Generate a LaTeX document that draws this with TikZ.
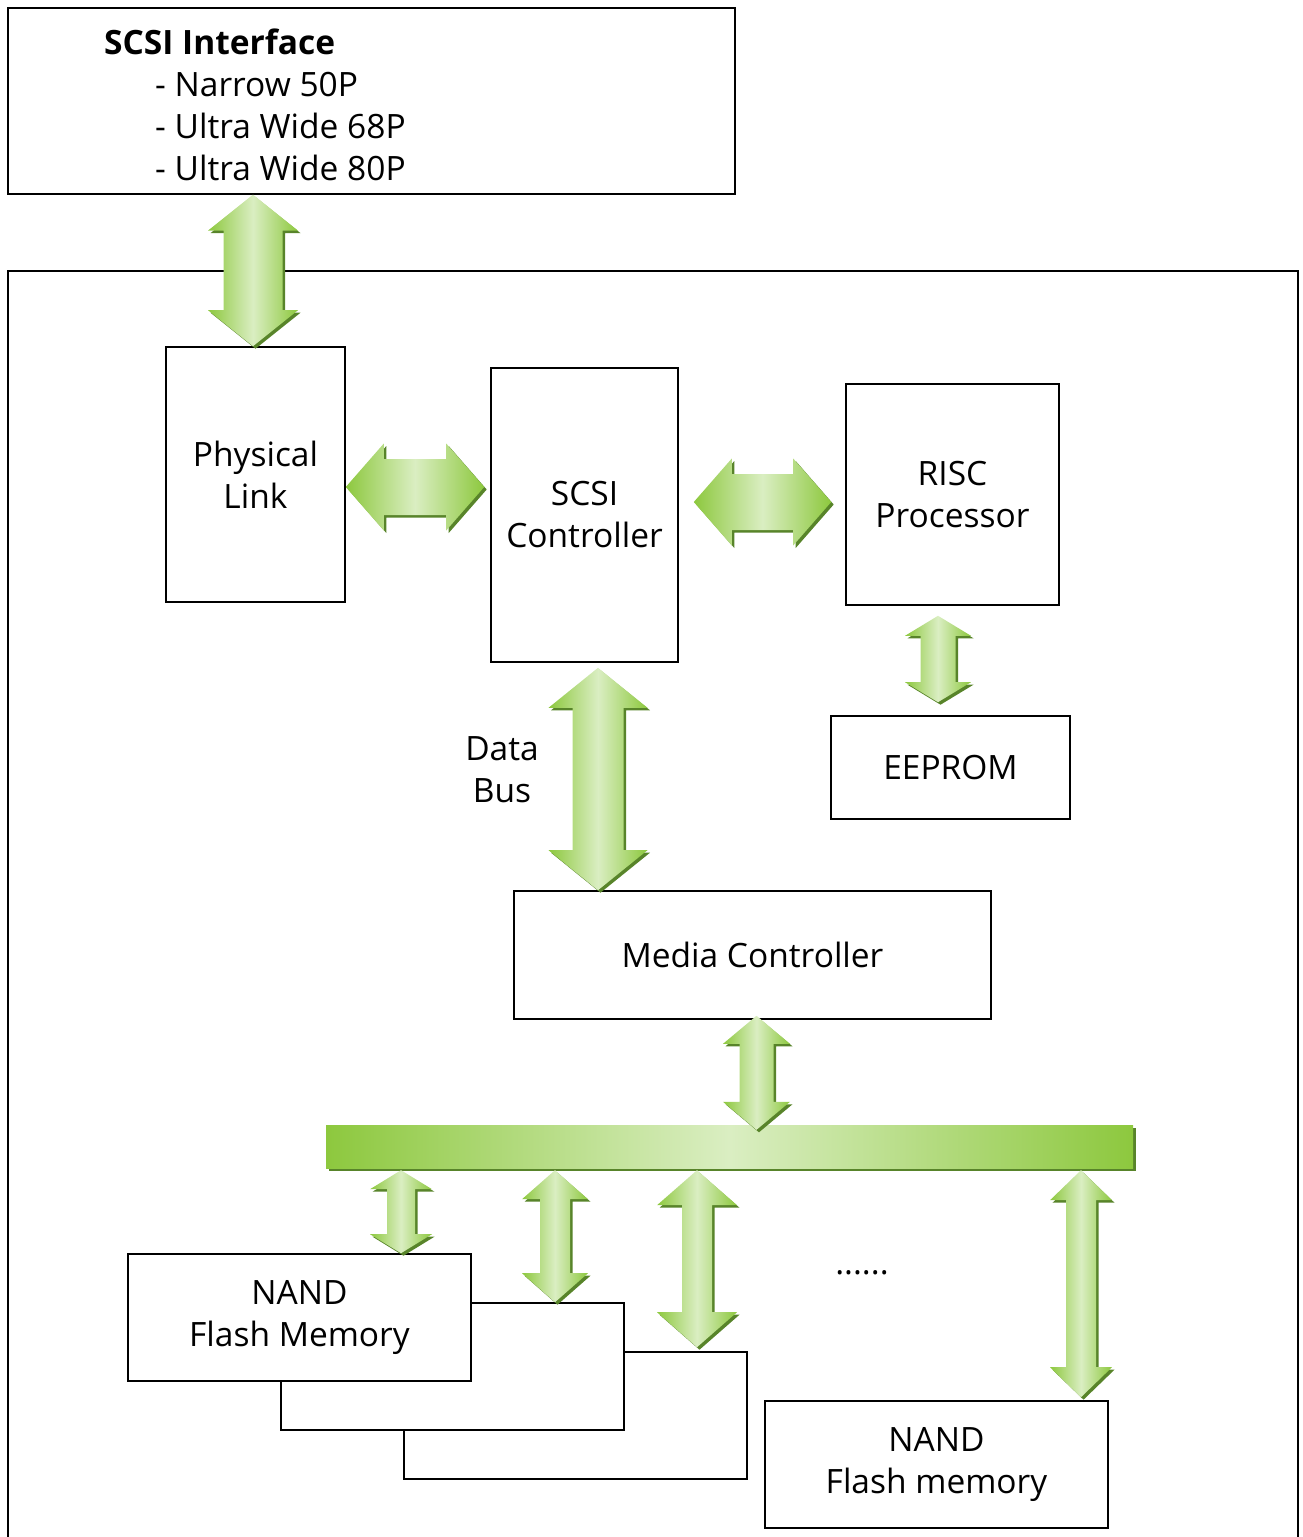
\documentclass[tikz,border=0pt]{standalone}
\usepackage{fontspec}
\setmainfont{Open Sans}
\usetikzlibrary{calc,shadows}

\definecolor{linkgreen}{RGB}{141,200,62}
\definecolor{linklight}{RGB}{218,238,194}
\definecolor{linkdark}{RGB}{88,132,42}

\tikzset{
	box/.style={draw, line width=1.6pt, fill=white, inner sep=0pt, align=center},
	linkbody/.style={left color=linkgreen, right color=linkgreen, middle color=linklight},
	linkshadow/.style={fill=linkdark, transform canvas={shift={(2.5pt,-2.5pt)}}},
}

% vertical double arrow: look, top tip, bottom tip, head half width, shaft half width, head length
\newcommand{\vlinkpath}[6]{%
	\path[#1] let \p1=#2, \p2=#3 in
		(\x1,\y1) -- (\x1+#4pt,\y1-#6pt) -- (\x1+#5pt,\y1-#6pt) -- (\x1+#5pt,\y2+#6pt)
		-- (\x1+#4pt,\y2+#6pt) -- (\x1,\y2) -- (\x1-#4pt,\y2+#6pt) -- (\x1-#5pt,\y2+#6pt)
		-- (\x1-#5pt,\y1-#6pt) -- (\x1-#4pt,\y1-#6pt) -- cycle;}
% horizontal double arrow: look, left tip, right tip, head half height, shaft half height, head length
\newcommand{\hlinkpath}[6]{%
	\path[#1] let \p1=#2, \p2=#3 in
		(\x1,\y1) -- (\x1+#6pt,\y1+#4pt) -- (\x1+#6pt,\y1+#5pt) -- (\x2-#6pt,\y1+#5pt)
		-- (\x2-#6pt,\y1+#4pt) -- (\x2,\y1) -- (\x2-#6pt,\y1-#4pt) -- (\x2-#6pt,\y1-#5pt)
		-- (\x1+#6pt,\y1-#5pt) -- (\x1+#6pt,\y1-#4pt) -- cycle;}
\newcommand{\vlink}[5]{\vlinkpath{linkshadow}{#1}{#2}{#3}{#4}{#5}\vlinkpath{linkbody}{#1}{#2}{#3}{#4}{#5}}
\newcommand{\hlink}[5]{\hlinkpath{linkshadow}{#1}{#2}{#3}{#4}{#5}\hlinkpath{linkbody}{#1}{#2}{#3}{#4}{#5}}

\begin{document}
\begin{tikzpicture}[x=1pt, y=-1pt, font=\fontsize{33.5}{42}\selectfont]
	\useasboundingbox (0,0) rectangle (1303,1537);

	% outer frames
	\node[box, anchor=north west, minimum width=727pt, minimum height=186pt] (iface) at (7,7) {};
	\node[anchor=north west, inner sep=0pt, align=left] (ifacetext) at (104,29)
		{\textbf{SCSI Interface}\\\hspace*{51pt}- Narrow 50P\\\hspace*{51pt}- Ultra Wide 68P\\\hspace*{51pt}- Ultra Wide 80P};
	\node[box, fill=none, anchor=north west, minimum width=1290pt, minimum height=1300pt] (board) at (7,270) {};

	% blocks
	\node[box, minimum width=179pt, minimum height=255pt] (plink) at (255.5,474.5) {Physical\\Link};
	\node[box, minimum width=187pt, minimum height=294pt] (scsi) at (584.5,515) {SCSI\\Controller};
	\node[box, minimum width=213pt, minimum height=221pt] (risc) at (952.5,494.5) {RISC\\Processor};
	\node[box, minimum width=239pt, minimum height=103pt] (eeprom) at (950.5,767.5) {EEPROM};
	\node[box, minimum width=477pt, minimum height=128pt] (media) at (752.5,955) {Media Controller};
	\node[align=center] (databus) at (502,770) {Data\\Bus};

	% flash bus
	\node[linkbody, minimum width=807pt, minimum height=43pt, inner sep=0pt,
		drop shadow={shadow xshift=3pt, shadow yshift=-3pt, fill=linkdark, opacity=1}] (bus) at (729.5,1146.5) {};

	% flash chips
	\node[box, minimum width=343pt, minimum height=127pt] (nand3) at (575.5,1415.5) {};
	\node[box, minimum width=343pt, minimum height=127pt] (nand2) at (452.5,1366.5) {};
	\node[box, minimum width=343pt, minimum height=127pt] (nand1) at (299.5,1317.5) {NAND\\Flash Memory};
	\node[box, minimum width=343pt, minimum height=127pt] (nandn) at (936.5,1464.5) {NAND\\Flash memory};
	\node (dots) at (862,1273) {......};

	% links
	\vlink{(iface.south -| 253,0)}{(plink.north -| 253,0)}{45}{29.5}{36}
	\hlink{(plink.east |- 0,487)}{($(scsi.west |- 0,487)+(-6,0)$)}{43.5}{28}{38}
	\hlink{($(scsi.east |- 0,502)+(15,0)$)}{($(risc.west |- 0,502)+(-14,0)$)}{43.5}{28}{38}
	\vlink{($(scsi.south -| 598,0)+(0,5)$)}{(media.north -| 598,0)}{49.5}{25.5}{40}
	\vlink{($(risc.south -| 938,0)+(0,10)$)}{($(eeprom.north -| 938,0)+(0,-13)$)}{33}{17.5}{20}
	\vlink{($(media.south -| 756.5,0)+(0,-4)$)}{($(bus.north -| 756.5,0)+(0,5)$)}{33.5}{17}{28}
	\vlink{($(bus.south -| 401,0)+(0,2)$)}{(nand1.north -| 401,0)}{31}{14}{19}
	\vlink{($(bus.south -| 555,0)+(0,2)$)}{(nand2.north -| 555,0)}{33}{15}{29}
	\vlink{($(bus.south -| 697,0)+(0,2)$)}{($(nand3.north -| 697,0)+(0,-4)$)}{40}{15}{35}
	\vlink{($(bus.south -| 1081,0)+(0,2)$)}{($(nandn.north -| 1081,0)+(0,-3)$)}{31}{15}{30}
\end{tikzpicture}
\end{document}
